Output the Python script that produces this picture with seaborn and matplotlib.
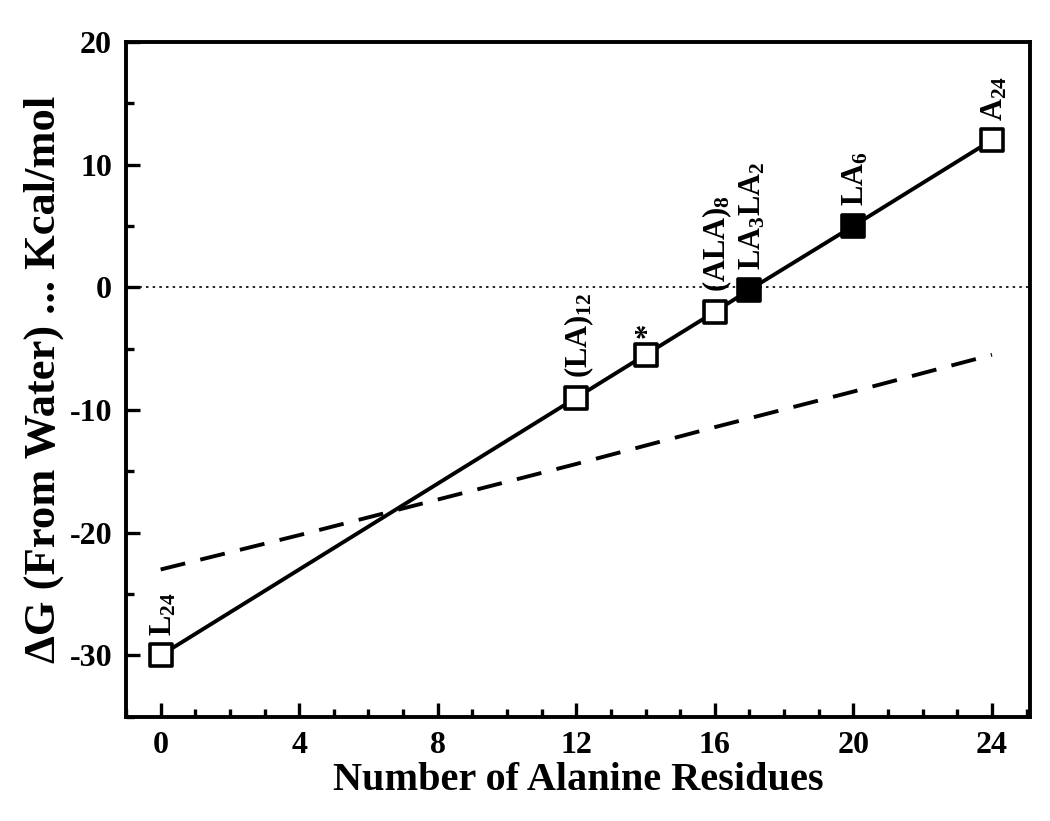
import matplotlib
matplotlib.use("Agg")
import matplotlib.pyplot as plt
import pandas as pd
import seaborn as sns
from matplotlib.ticker import MultipleLocator

# Peptide free energies (from water), kcal/mol
residues = [0, 12, 14, 16, 17, 20, 24]
dg = [-30, -9, -5.5, -2, -0.2, 5, 12]
filled = [False, False, False, False, True, True, False]
labels = [r"L$_{24}$", r"(LA)$_{12}$", "*", r"(ALA)$_{8}$",
          r"LA$_{3}$LA$_{2}$", r"LA$_{6}$", r"A$_{24}$"]

# dashed reference curve
ref_x = [0, 4, 8, 12, 16, 20, 24]
ref_y = [-23, -20.2, -17.3, -14.4, -11.4, -8.5, -5.5]

sns.set_theme(style="ticks")
plt.rcParams.update(
    {
        "font.family": "serif",
        "font.serif": ["Liberation Serif", "DejaVu Serif"],
        "font.weight": "bold",
        "axes.labelweight": "bold",
        "axes.unicode_minus": False,
        "axes.edgecolor": "black",
        "xtick.color": "black",
        "ytick.color": "black",
        "text.color": "black",
        "axes.labelcolor": "black",
        "mathtext.fontset": "custom",
        "mathtext.rm": "Liberation Serif:bold",
        "mathtext.it": "Liberation Serif:italic:bold",
        "mathtext.bf": "Liberation Serif:bold",
        "mathtext.default": "rm",
    }
)

df = pd.DataFrame({"x": residues, "y": dg, "filled": filled})
ref = pd.DataFrame({"x": ref_x, "y": ref_y})

fig = plt.figure(figsize=(10.5, 8.21), dpi=100)
ax = fig.add_axes([0.12, 0.127, 0.861, 0.822])

ax.axhline(0, color="black", lw=1.2, ls=(0, (1.5, 2.5)), zorder=1)
sns.lineplot(data=ref, x="x", y="y", ax=ax, color="black", lw=2.8,
             zorder=2).lines[-1].set_dashes([6.5, 4])
sns.lineplot(data=df, x="x", y="y", ax=ax, color="black", lw=2.8, sort=False, zorder=3)

open_pts = df[~df["filled"]]
solid_pts = df[df["filled"]]
sns.scatterplot(data=open_pts, x="x", y="y", ax=ax, marker="s", s=260,
                facecolor="white", edgecolor="black", linewidth=2.6, zorder=4)
sns.scatterplot(data=solid_pts, x="x", y="y", ax=ax, marker="s", s=260,
                color="black", edgecolor="black", linewidth=2.6, zorder=4)

for x, y, lab in zip(residues, dg, labels):
    off = 14 if lab != "*" else 12
    ax.annotate(lab, (x, y), xytext=(2, off), textcoords="offset points",
                rotation=90, ha="center", va="bottom", fontsize=22,
                fontweight="bold")

ax.set_xlim(-1, 25.1)
ax.set_ylim(-35, 20)
ax.xaxis.set_major_locator(MultipleLocator(4))
ax.xaxis.set_minor_locator(MultipleLocator(1))
ax.yaxis.set_major_locator(MultipleLocator(10))
ax.yaxis.set_minor_locator(MultipleLocator(5))
ax.tick_params(which="both", direction="in", width=2.4, labelsize=23)
ax.tick_params(which="major", length=10, pad=10)
ax.tick_params(which="minor", length=6)
for lab in ax.get_xticklabels() + ax.get_yticklabels():
    lab.set_fontweight("bold")
for sp in ax.spines.values():
    sp.set_linewidth(2.8)
    sp.set_visible(True)

ax.set_xlabel("Number of Alanine Residues", fontsize=29, labelpad=2)
ax.set_ylabel("ΔG (From Water) ... Kcal/mol", fontsize=32, labelpad=4)

fig.savefig("out.png", dpi=100, facecolor="white")
